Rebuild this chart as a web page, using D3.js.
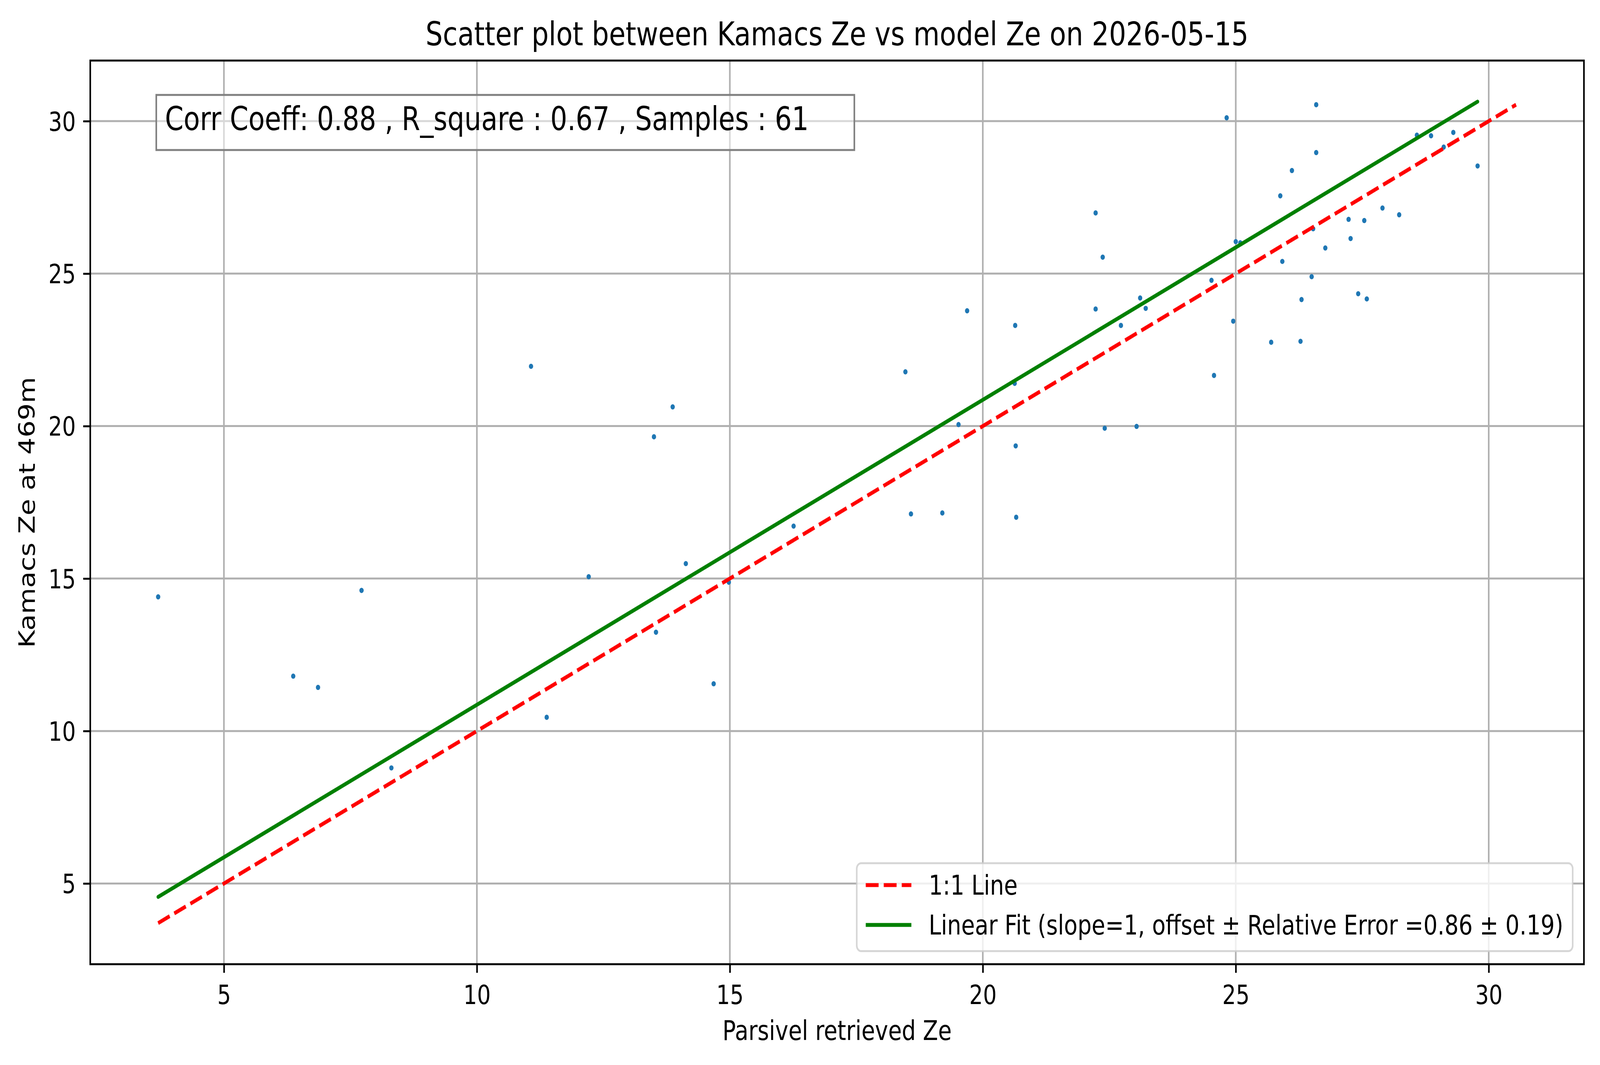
<!DOCTYPE html>
<html>
<head>
<meta charset="utf-8">
<script src="https://cdn.jsdelivr.net/npm/d3@7"></script>
<style>
  html, body { margin: 0; padding: 0; background: #ffffff; overflow: hidden; width: 100%; height: 100%; }
  svg { display: block; width: 100vw; height: 100vh; }
  text { font-family: "DejaVu Sans", sans-serif; fill: #000; }
</style>
</head>
<body>
<svg id="chart" viewBox="0 0 4981 2726" preserveAspectRatio="none"></svg>
<script>
// ---------- data ----------
const parsivelZe = [3.70, 6.37, 6.86, 7.72, 8.31, 11.07, 11.38, 12.21, 13.50, 13.54,
  13.87, 14.13, 14.68, 14.98, 16.26, 18.47, 18.58, 19.20, 19.52, 19.69,
  20.64, 20.63, 20.65, 20.66, 22.23, 22.37, 22.23, 22.41, 22.73, 23.04,
  23.11, 23.22, 24.52, 24.57, 24.82, 24.95, 25.00, 25.09, 25.70, 25.88,
  25.92, 26.11, 26.28, 26.30, 26.50, 26.53, 26.59, 26.59, 26.77, 27.23,
  27.27, 27.42, 27.54, 27.59, 27.90, 28.23, 28.58, 28.86, 29.11, 29.30, 29.78];
const kamacsZe = [14.40, 11.80, 11.43, 14.61, 8.79, 21.96, 10.45, 15.06, 19.65, 13.24,
  20.63, 15.49, 11.55, 14.88, 16.72, 21.78, 17.12, 17.15, 20.05, 23.78,
  23.30, 21.40, 19.35, 17.01, 26.99, 25.54, 23.84, 19.93, 23.30, 19.99,
  24.20, 23.86, 24.78, 21.66, 30.11, 23.44, 26.05, 26.01, 22.75, 27.55,
  25.40, 28.38, 22.78, 24.15, 24.90, 26.47, 28.97, 30.54, 25.84, 26.78,
  26.15, 24.34, 26.74, 24.17, 27.15, 26.93, 29.54, 29.52, 29.15, 29.63, 28.53];
const fitSlope = 1;
const fitOffset = 0.86;
const fitError = 0.19;
const corrCoeff = 0.88;
const rSquare = 0.67;
const xTicks = [5, 10, 15, 20, 25, 30];
const yTicks = [5, 10, 15, 20, 25, 30];
const titleText = "Scatter plot between Kamacs Ze vs model Ze on 2026-05-15";
const xLabelText = "Parsivel retrieved Ze";
const yLabelText = "Kamacs Ze at 469m";
const legendLabels = ["1:1 Line", "Linear Fit (slope=1, offset \u00b1 Relative Error =0.86 \u00b1 0.19)"];

// ---------- layout ----------
const ax = { left: 281, right: 4931, top: 155, bottom: 2468 };
const svg = d3.select("#chart");

// lines (derived from data)
const lo = Math.min(d3.min(parsivelZe), d3.min(kamacsZe));
const hi = Math.max(d3.max(parsivelZe), d3.max(kamacsZe));
const oneToOne = [[lo, lo], [hi, hi]];
const fxMin = d3.min(parsivelZe), fxMax = d3.max(parsivelZe);
const fitLine = [[fxMin, fitSlope * fxMin + fitOffset], [fxMax, fitSlope * fxMax + fitOffset]];

// domains with 5% margins (matplotlib autoscale)
function pad(a, b) { const m = (b - a) * 0.05; return [a - m, b + m]; }
const allX = parsivelZe.concat([lo, hi, fxMin, fxMax]);
const allY = kamacsZe.concat([lo, hi, fitLine[0][1], fitLine[1][1]]);
const x = d3.scaleLinear().domain(pad(d3.min(allX), d3.max(allX))).range([ax.left, ax.right]);
const y = d3.scaleLinear().domain(pad(d3.min(allY), d3.max(allY))).range([ax.bottom, ax.top]);

// grid
const grid = svg.append("g");
grid.selectAll("line.gx").data(xTicks).enter().append("line")
  .attr("x1", d => x(d)).attr("x2", d => x(d)).attr("y1", ax.top).attr("y2", ax.bottom)
  .attr("stroke", "#b0b0b0").attr("stroke-width", 5);
grid.selectAll("line.gy").data(yTicks).enter().append("line")
  .attr("y1", d => y(d)).attr("y2", d => y(d)).attr("x1", ax.left).attr("x2", ax.right)
  .attr("stroke", "#b0b0b0").attr("stroke-width", 5);

// clip
svg.append("clipPath").attr("id", "clip").append("rect")
  .attr("x", ax.left).attr("y", ax.top).attr("width", ax.right - ax.left).attr("height", ax.bottom - ax.top);
const plot = svg.append("g").attr("clip-path", "url(#clip)");

// scatter
plot.selectAll("circle").data(d3.range(parsivelZe.length)).enter().append("circle")
  .attr("cx", i => x(parsivelZe[i])).attr("cy", i => y(kamacsZe[i])).attr("r", 6.7)
  .attr("fill", "#1f77b4");

const lineGen = d3.line().x(d => x(d[0])).y(d => y(d[1]));
plot.append("path").attr("d", lineGen(oneToOne)).attr("fill", "none")
  .attr("stroke", "#ff0000").attr("stroke-width", 10).attr("stroke-dasharray", "40,16");
plot.append("path").attr("d", lineGen(fitLine)).attr("fill", "none")
  .attr("stroke", "#008000").attr("stroke-width", 10).attr("stroke-linecap", "round");

// axes
const xAxis = d3.axisBottom(x).tickValues(xTicks).tickSize(22).tickPadding(22).tickFormat(d3.format("d"));
const yAxis = d3.axisLeft(y).tickValues(yTicks).tickSize(22).tickPadding(23).tickFormat(d3.format("d"));
const gx = svg.append("g").attr("transform", `translate(0,${ax.bottom})`).call(xAxis);
const gy = svg.append("g").attr("transform", `translate(${ax.left},0)`).call(yAxis);
[gx, gy].forEach(g => {
  g.select(".domain").remove();
  g.selectAll(".tick line").attr("stroke", "#000").attr("stroke-width", 5);
  g.selectAll(".tick text").attr("font-size", 67).attr("font-family", "DejaVu Sans").attr("fill", "#000");
});
gx.selectAll(".tick text").attr("dy", null).attr("y", null)
  .attr("transform", "translate(0,102)");
gy.selectAll(".tick text").attr("dy", "0.36em");

// spines
svg.append("rect").attr("x", ax.left).attr("y", ax.top)
  .attr("width", ax.right - ax.left).attr("height", ax.bottom - ax.top)
  .attr("fill", "none").attr("stroke", "#000").attr("stroke-width", 5);

// title and labels
svg.append("text").attr("x", (ax.left + ax.right) / 2).attr("y", 116)
  .attr("text-anchor", "middle").attr("font-size", 84).text(titleText);
svg.append("text").attr("x", (ax.left + ax.right) / 2).attr("y", 2662)
  .attr("text-anchor", "middle").attr("font-size", 69).text(xLabelText);
svg.append("text").attr("transform", `translate(108,${(ax.top + ax.bottom) / 2}) rotate(-90)`)
  .attr("text-anchor", "middle").attr("font-size", 69).text(yLabelText);

// stats text box (right side keeps the extra trailing room seen in the original)
const statsStr = `Corr Coeff: ${corrCoeff.toFixed(2)} , R_square : ${rSquare.toFixed(2)} , Samples : ${parsivelZe.length}`;
const boxG = svg.append("g");
const boxRect = boxG.append("rect");
const statsText = boxG.append("text").attr("x", ax.left + 0.05 * (ax.right - ax.left)).attr("y", 333)
  .attr("font-size", 83).text(statsStr);
const tl = statsText.node().getComputedTextLength();
const tx0 = +statsText.attr("x");
boxRect.attr("x", tx0 - 27).attr("y", 243).attr("width", tl + 27 + 142).attr("height", 141)
  .attr("fill", "#ffffff").attr("fill-opacity", 0.5)
  .attr("stroke", "#808080").attr("stroke-width", 5);

// legend
const lg = svg.append("g");
const lgRect = lg.append("rect");
const lgTexts = legendLabels.map((t, i) => lg.append("text").attr("font-size", 69).text(t));
const maxLen = d3.max(lgTexts.map(t => t.node().getComputedTextLength()));
const lgW = 224 + maxLen + 29, lgH = 225;
const lgRight = ax.right - 35, lgBottom = ax.bottom - 33.5;
const lgLeft = lgRight - lgW, lgTop = lgBottom - lgH;
lgRect.attr("x", lgLeft).attr("y", lgTop).attr("width", lgW).attr("height", lgH)
  .attr("rx", 14).attr("ry", 14)
  .attr("fill", "#ffffff").attr("fill-opacity", 0.8)
  .attr("stroke", "#cccccc").attr("stroke-opacity", 0.8).attr("stroke-width", 5);
const rowCenters = [lgTop + 56, lgTop + 158];
lgTexts.forEach((t, i) => t.attr("x", lgLeft + 224).attr("y", rowCenters[i] + 24.5));
lg.append("line").attr("x1", lgLeft + 28).attr("x2", lgLeft + 170)
  .attr("y1", rowCenters[0]).attr("y2", rowCenters[0])
  .attr("stroke", "#ff0000").attr("stroke-width", 10).attr("stroke-dasharray", "40,16");
lg.append("line").attr("x1", lgLeft + 28).attr("x2", lgLeft + 170)
  .attr("y1", rowCenters[1]).attr("y2", rowCenters[1])
  .attr("stroke", "#008000").attr("stroke-width", 10);
</script>
</body>
</html>
